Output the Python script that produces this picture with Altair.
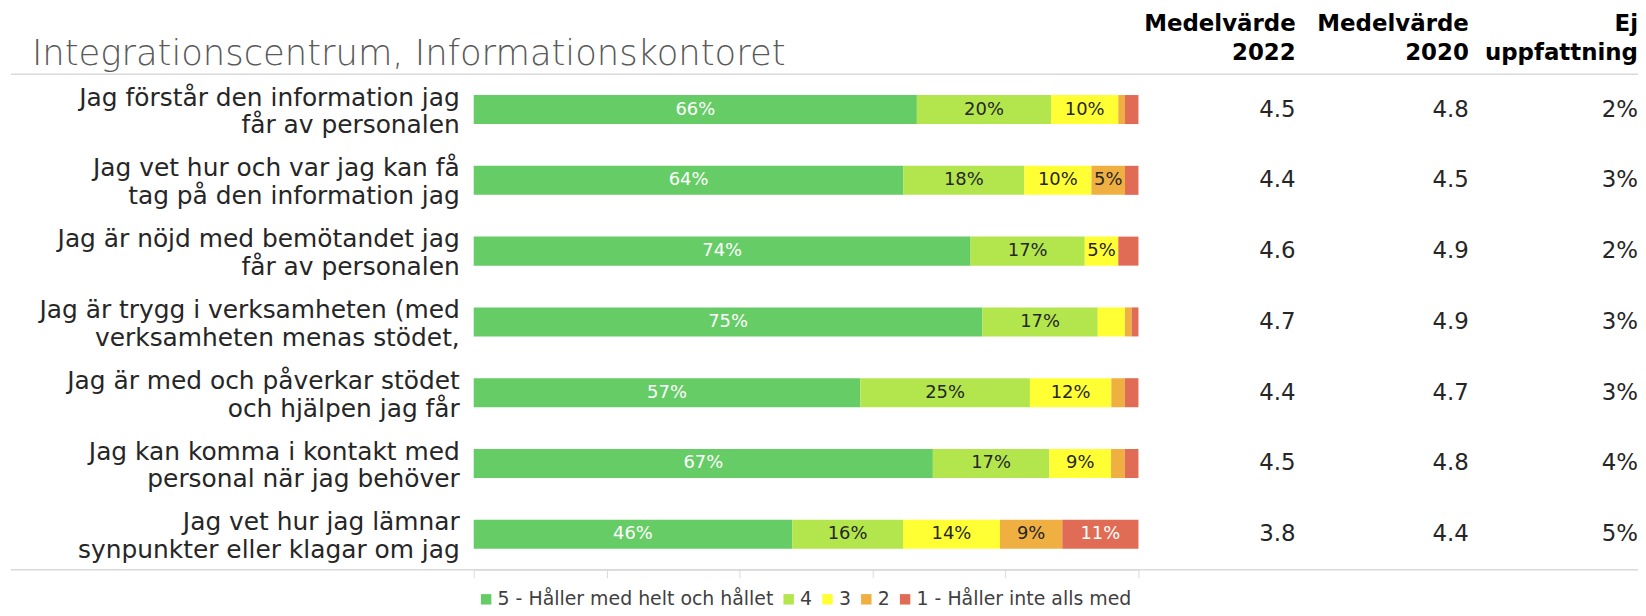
import altair as alt
import pandas as pd

# ---------------- data ----------------
questions = [
    "Jag förstår den information jag\nfår av personalen",
    "Jag vet hur och var jag kan få\ntag på den information jag",
    "Jag är nöjd med bemötandet jag\nfår av personalen",
    "Jag är trygg i verksamheten (med\nverksamheten menas stödet,",
    "Jag är med och påverkar stödet\noch hjälpen jag får",
    "Jag kan komma i kontakt med\npersonal när jag behöver",
    "Jag vet hur jag lämnar\nsynpunkter eller klagar om jag",
]
categories = ["5 - Håller med helt och hållet", "4", "3", "2", "1 - Håller inte alls med"]
colors = ["#66CC66", "#B3E64D", "#FFFF33", "#EFB041", "#E06C55"]

v5 = [66, 64, 74, 75, 57, 67, 46]
v4 = [20, 18, 17, 17, 25, 17, 16]
v3 = [10, 10, 5, 4, 12, 9, 14]
v2 = [1, 5, 0, 1, 2, 2, 9]
v1 = [2, 2, 3, 1, 2, 2, 11]

mean_2022 = [4.5, 4.4, 4.6, 4.7, 4.4, 4.5, 3.8]
mean_2020 = [4.8, 4.5, 4.9, 4.9, 4.7, 4.8, 4.4]
ej_uppfattning = [2, 3, 2, 3, 3, 4, 5]

title_text = "Integrationscentrum, Informationskontoret"
headers = ["Medelvärde\n2022", "Medelvärde\n2020", "Ej\nuppfattning"]

# ---------------- tables ----------------
rows = []
for i, q in enumerate(questions):
    for k, (c, vals) in enumerate(zip(categories, [v5, v4, v3, v2, v1])):
        rows.append({"q": q, "cat": c, "order": k, "value": vals[i]})
df = pd.DataFrame(rows)

qdf = pd.DataFrame({"q": questions, "m22": mean_2022, "m20": mean_2020, "ej": ej_uppfattning})

FONT = "DejaVu Sans"
TXT = "#262626"
GRID = "#D9D9D9"
W, H = 668, 498
PAD_L, PAD_T = 468, 65
TOTAL_W, TOTAL_H = 1638, 600

ysc = alt.Scale(paddingInner=0.59, paddingOuter=0.295)
y_axis = alt.Y(
    "q:N", sort=questions, scale=ysc,
    axis=alt.Axis(title=None, labels=False, ticks=False, domain=False, grid=True,
                  tickBand="extent", gridColor=GRID, gridWidth=1),
)
y_plain = alt.Y("q:N", sort=questions, scale=ysc, axis=None)

xscale = alt.Scale(domain=[0, 1], nice=False, zero=True)
xaxis = alt.Axis(title=None, labels=False, values=[0, 0.2, 0.4, 0.6, 0.8, 1], tickSize=8,
                 tickColor=GRID, domainColor=GRID, grid=False, tickWidth=1, domainWidth=1)

base = (
    alt.Chart(df)
    .transform_joinaggregate(total="sum(value)", groupby=["q"])
    .transform_calculate(frac="datum.value / datum.total")
    .transform_stack(stack="frac", groupby=["q"], as_=["x0", "x1"],
                     sort=[alt.SortField("order", order="ascending")])
    .transform_calculate(mid="(datum.x0 + datum.x1) / 2", label="datum.value + '%'")
)

bars = base.mark_bar().encode(
    x=alt.X("x0:Q", scale=xscale, axis=xaxis),
    x2="x1:Q",
    y=y_axis,
    color=alt.Color(
        "cat:N",
        scale=alt.Scale(domain=categories, range=colors),
        legend=alt.Legend(
            title=None, orient="none", legendX=3, legendY=518, direction="horizontal",
            symbolType="square", symbolSize=110, symbolStrokeWidth=0, symbolOpacity=1,
            labelFontSize=19, labelFont=FONT, labelColor="#404040", columnPadding=5,
            labelOffset=2, labelLimit=0,
        ),
    ),
)

seg_labels = base.transform_filter("datum.value >= 5").mark_text(
    fontSize=18, font=FONT
).encode(
    x=alt.X("mid:Q", scale=xscale),
    y=y_plain,
    text="label:N",
    color=alt.condition("datum.order == 0 || datum.order == 4", alt.value("white"), alt.value(TXT)),
)

qbase = alt.Chart(qdf)
ylabels = qbase.mark_text(
    align="right", baseline="middle", lineBreak="\n", fontSize=25, lineHeight=28, dy=-12,
    font=FONT, color=TXT,
).encode(y=y_plain, x=alt.value(-14), text="q:N")

col_x = [826, 1000, 1170]
col_m22 = qbase.mark_text(align="right", baseline="middle", fontSize=23, font=FONT, color=TXT).encode(
    y=y_plain, x=alt.value(col_x[0]), text=alt.Text("m22:Q", format=".1f"))
col_m20 = qbase.mark_text(align="right", baseline="middle", fontSize=23, font=FONT, color=TXT).encode(
    y=y_plain, x=alt.value(col_x[1]), text=alt.Text("m20:Q", format=".1f"))
col_ej = qbase.transform_calculate(ejl="datum.ej + '%'").mark_text(
    align="right", baseline="middle", fontSize=23, font=FONT, color=TXT).encode(
    y=y_plain, x=alt.value(col_x[2]), text="ejl:N")

header_layers = []
for hx, htxt in zip(col_x, headers):
    header_layers.append(
        alt.Chart(pd.DataFrame({"h": [htxt]})).mark_text(
            align="right", baseline="middle", lineBreak="\n", fontSize=23, lineHeight=29,
            font=FONT, fontWeight="bold", color="#000000",
        ).encode(x=alt.value(hx), y=alt.value(-50), text="h:N")
    )

title = alt.Chart(pd.DataFrame({"t": [title_text]})).mark_text(
    align="left", baseline="alphabetic", fontSize=35.5, font=FONT, fontWeight=300, color="#595959",
).encode(x=alt.value(-444), y=alt.value(-9), text="t:N")

one = pd.DataFrame({"a": [0]})
top_line = alt.Chart(one).mark_rule(color=GRID, strokeWidth=1.5).encode(
    x=alt.value(-(PAD_L - 3)), x2=alt.value(TOTAL_W - PAD_L), y=alt.value(0))
bottom_line = alt.Chart(one).mark_rule(color=GRID, strokeWidth=1.5).encode(
    x=alt.value(-(PAD_L - 3)), x2=alt.value(TOTAL_W - PAD_L), y=alt.value(H))

chart = alt.layer(
    top_line, bottom_line, bars, seg_labels, ylabels, col_m22, col_m20, col_ej,
    *header_layers, title,
).properties(
    width=W, height=H,
    autosize=alt.AutoSizeParams(type="none"),
    padding={"left": PAD_L, "top": PAD_T, "right": TOTAL_W - PAD_L - W, "bottom": TOTAL_H - PAD_T - H},
).configure_view(stroke=None)

chart.save("out.html", embed_options={"renderer": "svg", "actions": False})
